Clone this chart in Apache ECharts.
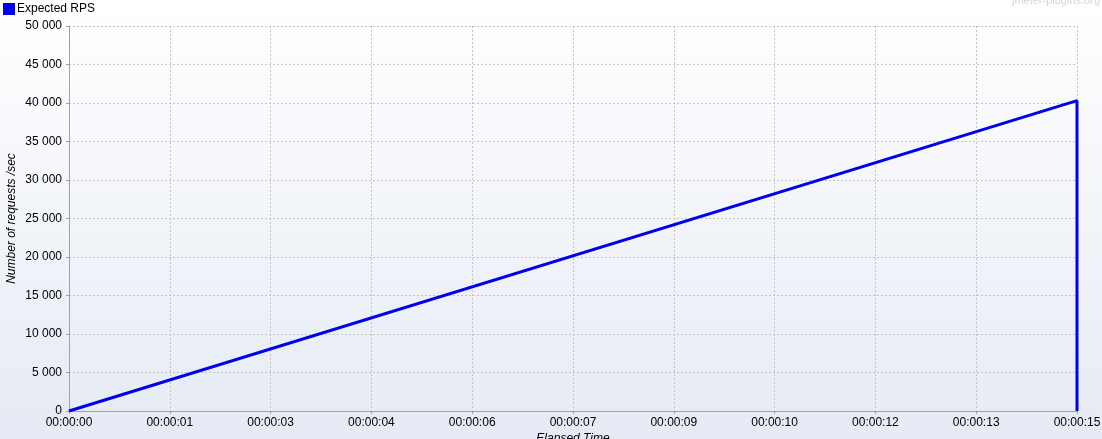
<!DOCTYPE html>
<html><head><meta charset="utf-8">
<script src="https://cdn.jsdelivr.net/npm/echarts@6/dist/echarts.min.js"></script>
<style>html,body{margin:0;padding:0;}#c{width:1102px;height:439px;}</style>
</head><body><div id="c"></div>
<script>
const seriesName = 'Expected RPS';
const timeSec = [0, 15, 15];
const rpsValues = [0, 40300, 0];
const yTicks = [0, 5000, 10000, 15000, 20000, 25000, 30000, 35000, 40000, 45000, 50000];

const chart = echarts.init(document.getElementById('c'), null, {renderer: 'canvas'});
const pad = n => String(n).padStart(2, '0');
const fmtTime = v => { const s = Math.floor(v + 1e-9); return '00:' + pad(Math.floor(s / 60)) + ':' + pad(s % 60); };
const fmtNum = v => String(v).replace(/\B(?=(\d{3})+(?!\d))/g, ' ');
const font = 'Liberation Sans, Arial, sans-serif';
chart.setOption({
  animation: false,
  backgroundColor: {type: 'linear', x: 0, y: 0, x2: 0, y2: 1, colorStops: [{offset: 0, color: '#ffffff'}, {offset: 1, color: '#e5eaf4'}]},
  textStyle: {fontFamily: font},
  graphic: [
    {type: 'rect', left: 3, top: 3, shape: {width: 12, height: 12}, style: {fill: '#0000ee'}},
    {type: 'text', left: 17, top: 3, style: {text: seriesName, font: '12px ' + font, fill: '#000'}},
    {type: 'text', right: 2, top: -5, style: {text: 'jmeter-plugins.org', font: '11px ' + font, fill: '#d4d4d8'}}
  ],
  grid: {left: 69, right: 25, top: 26, bottom: 28, containLabel: false, outerBoundsMode: 'none'},
  xAxis: {
    type: 'value', min: 0, max: 15, interval: 1.5,
    name: 'Elapsed Time', nameLocation: 'middle', nameGap: 22, nameMoveOverlap: false,
    nameTextStyle: {fontStyle: 'italic', fontSize: 12, color: '#000', fontFamily: font},
    axisLine: {show: true, lineStyle: {color: '#a0a0a8', width: 1}},
    axisTick: {show: true, length: 3, lineStyle: {color: '#a0a0a8'}},
    axisLabel: {formatter: fmtTime, color: '#000', fontSize: 12, margin: 6, fontFamily: font},
    splitLine: {show: true, lineStyle: {color: '#c4c4c4', type: [2, 2], width: 1}}
  },
  yAxis: {
    type: 'value', min: yTicks[0], max: yTicks[yTicks.length - 1], interval: yTicks[1] - yTicks[0],
    name: 'Number of requests /sec', nameLocation: 'middle', nameGap: 51, nameMoveOverlap: false,
    nameTextStyle: {fontStyle: 'italic', fontSize: 12, color: '#000', fontFamily: font},
    axisLine: {show: true, lineStyle: {color: '#a0a0a8', width: 1}},
    axisTick: {show: true, length: 3, lineStyle: {color: '#a0a0a8'}},
    axisLabel: {formatter: fmtNum, color: '#000', fontSize: 12, margin: 7, fontFamily: font},
    splitLine: {show: true, lineStyle: {color: '#c4c4c4', type: [2, 2], width: 1}}
  },
  series: [{
    name: seriesName, type: 'line', showSymbol: false, symbol: 'none',
    data: timeSec.map((t, i) => [t, rpsValues[i]]),
    lineStyle: {color: '#0000ee', width: 3}, itemStyle: {color: '#0000ee'}
  }]
});
</script></body></html>
